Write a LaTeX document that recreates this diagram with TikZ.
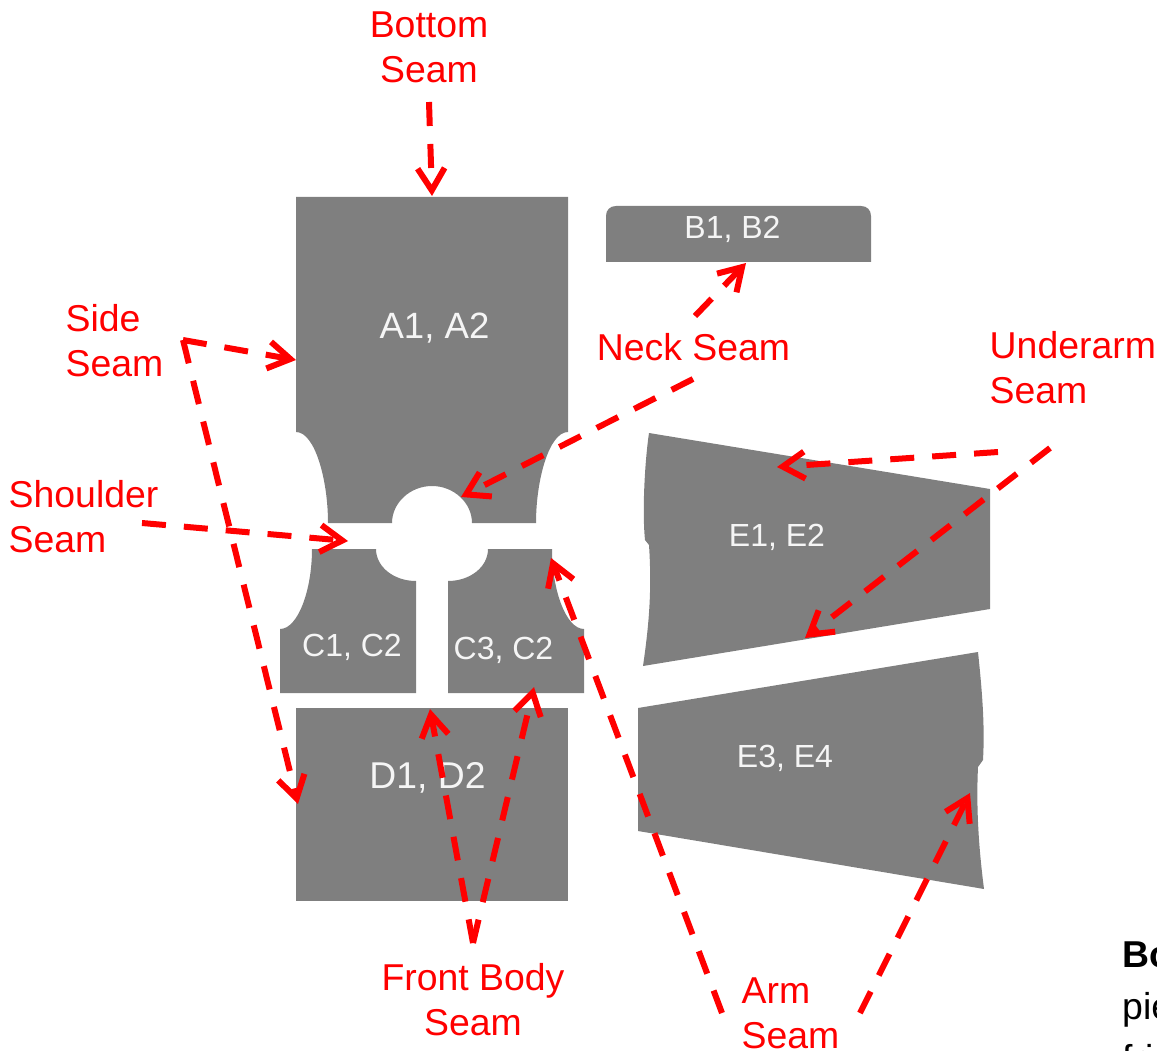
\documentclass[tikz,border=0pt]{standalone}
\usepackage{fontspec}
\setmainfont{Liberation Sans}
\usetikzlibrary{arrows.meta}
\definecolor{piecegray}{RGB}{127,127,127}
\definecolor{seamred}{RGB}{255,0,0}
\begin{document}
\begin{tikzpicture}[
                x=1pt,y=-1pt,
                piece/.style={fill=piecegray,draw=none},
                piecelabel/.style={inner sep=0pt,text=white!96!black,font=\fontsize{32}{38}\selectfont},
                seamlabel/.style={inner sep=0pt,text=seamred,font=\fontsize{37.4}{45}\selectfont},
                seam/.style={draw=seamred,line width=6pt,dash pattern=on 24pt off 18pt,-{Straight Barb[length=22pt,width=27pt,line width=6pt]}}
            ]
                \useasboundingbox (0,0) rectangle (1157,1051);

                % Body pieces
                \fill[piece] (296,197) -- (568,197) -- (568,432) .. controls (549,432) and (536,480) .. (536,523)
                    -- (472,523) .. controls (472,503) and (454,486) .. (432,486) .. controls (410,486) and (392,503) .. (392,523)
                    -- (328,523) .. controls (328,480) and (315,432) .. (296,432) -- cycle;
                \fill[piece] (606,262) -- (606,216) .. controls (606,210) and (610,206) .. (616,206) -- (861,206)
                    .. controls (867,206) and (871,210) .. (871,216) -- (871,262) -- cycle;
                \fill[piece] (312,549) -- (376,549) .. controls (376,567) and (394,581) .. (416,581) -- (416,693) -- (280,693) -- (280,629)
                    .. controls (298,629) and (312,590) .. (312,549) -- cycle;
                \fill[piece] (552,549) -- (488,549) .. controls (488,567) and (470,581) .. (448,581) -- (448,693) -- (584,693) -- (584,629)
                    .. controls (566,629) and (552,590) .. (552,549) -- cycle;
                \fill[piece] (296,708) rectangle (568,901);

                % Sleeve pieces
                \fill[piece] (649,433) -- (990,489) -- (990,609) -- (643,666) .. controls (649,625) and (652,590) .. (649,545)
                    -- (645,540) .. controls (642,510) and (645,460) .. (649,433) -- cycle;
                \fill[piece] (638,708) -- (978,652) .. controls (982,690) and (985,725) .. (983,760)
                    -- (978,767) .. controls (976,810) and (979,850) .. (984,889) -- (638,831) -- cycle;

                % Piece labels
                \node[piecelabel,font=\fontsize{36.6}{43}\selectfont] (a) at (434.5,328) {A1, A2};
                \node[piecelabel] (b) at (732.5,229) {B1, B2};
                \node[piecelabel] (c1) at (352,647) {C1, C2};
                \node[piecelabel] (c3) at (503.5,650) {C3, C2};
                \node[piecelabel,font=\fontsize{37.3}{44}\selectfont] (d) at (427.5,778) {D1, D2};
                \node[piecelabel] (e1) at (777,537) {E1, E2};
                \node[piecelabel] (e3) at (785,758) {E3, E4};

                % Seam labels
                \node[seamlabel,align=center] (bottom) at (429,47.5) {Bottom\\Seam};
                \node[seamlabel,align=left,anchor=west] (side) at (65.5,341) {Side\\Seam};
                \node[seamlabel,align=left,anchor=west] (shoulder) at (8.5,517) {Shoulder\\Seam};
                \node[seamlabel] (neck) at (693.5,347) {Neck Seam};
                \node[seamlabel,align=left,anchor=west] (underarm) at (989.5,368) {Underarm\\Seam};
                \node[seamlabel,align=center] (front) at (473,1000) {Front Body\\Seam};
                \node[seamlabel,align=left,anchor=west] (arm) at (741.5,1013.5) {Arm\\Seam};

                % Text running off the page
                \node[anchor=north west,inner sep=0pt,align=left,font=\fontsize{37.4}{52}\selectfont] (cut) at (1122,942) {\textbf{Bo}\\pie\\fri};

                % Seam ends
                \coordinate (bottomstart) at (429,102);
                \coordinate (bottomend) at (432,196);
                \coordinate (sidestart) at (183,340);
                \coordinate (sideend) at (296,360);
                \coordinate (sidelow) at (298,804);
                \coordinate (shoulderstart) at (142,523);
                \coordinate (shoulderend) at (348,541);
                \coordinate (neckup) at (695,316);
                \coordinate (neckupend) at (746,263);
                \coordinate (neckdown) at (693,379);
                \coordinate (neckdownend) at (461,497);
                \coordinate (underone) at (998,452);
                \coordinate (underoneend) at (777,467);
                \coordinate (undertwo) at (1050,448);
                \coordinate (undertwoend) at (805,638);
                \coordinate (frontstart) at (473,943);
                \coordinate (frontleft) at (430,709);
                \coordinate (frontright) at (534,687);
                \coordinate (armleft) at (722,1013);
                \coordinate (armleftend) at (551,558);
                \coordinate (armright) at (860,1013);
                \coordinate (armrightend) at (970,793);

                % Connections
                \draw[seam] (bottomstart) -- (bottomend);
                \draw[seam] (sidestart) -- (sideend);
                \draw[seam] (sidestart) -- (sidelow);
                \draw[seam] (shoulderstart) -- (shoulderend);
                \draw[seam] (neckup) -- (neckupend);
                \draw[seam] (neckdown) -- (neckdownend);
                \draw[seam] (underone) -- (underoneend);
                \draw[seam] (undertwo) -- (undertwoend);
                \draw[seam] (frontstart) -- (frontleft);
                \draw[seam] (frontstart) -- (frontright);
                \draw[seam] (armleft) -- (armleftend);
                \draw[seam] (armright) -- (armrightend);
            \end{tikzpicture}
\end{document}
